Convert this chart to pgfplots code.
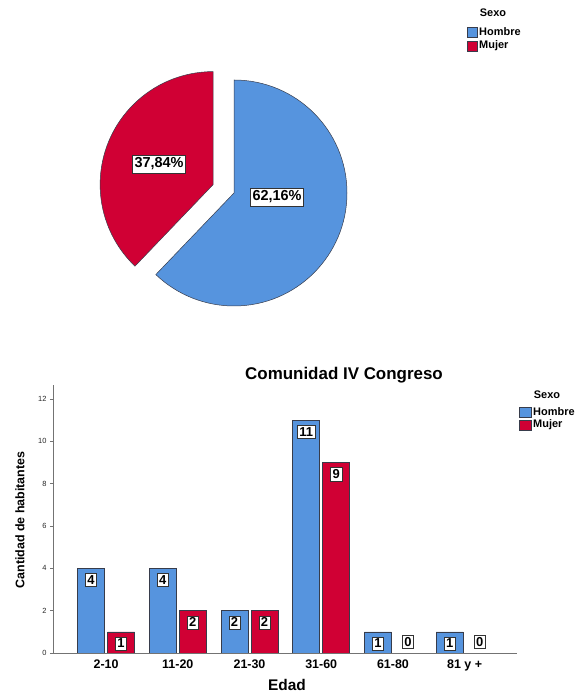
\documentclass[border=0pt]{standalone}
\usepackage{fontspec}
\setmainfont{Liberation Sans}
\usepackage{pgfplots}
\usepackage{pgfplotstable}
\pgfplotsset{compat=1.18}

\definecolor{hombre}{RGB}{86,148,222}
\definecolor{mujer}{RGB}{208,0,52}
\definecolor{edge}{RGB}{55,60,75}
\newcommand{\fsz}[1]{\fontsize{#1}{#1}\selectfont}

% share of Hombre in percent (Mujer = 100 - this)
\newcommand{\pctH}{62.16}

\pgfplotstableread{
cat hombre mujer
0   4      1
1   4      2
2   2      2
3   11     9
4   1      0
5   1      0
}\edad

\begin{document}
\begin{tikzpicture}
% ---- pie ----
\begin{axis}[hide axis, x=1bp, y=1bp,
    xmin=-130, xmax=130, ymin=-130, ymax=130,
    at={(234bp,500bp)}, anchor=center, clip=false]
  \pgfmathsetmacro{\aend}{90-3.6*\pctH}
  \pgfmathsetmacro{\bis}{(90+\aend+360)/2}
  \fill[hombre, draw=edge, line width=0.5bp]
    (axis cs:0,0) -- (axis cs:0,113) arc[start angle=90, end angle=\aend, radius=113bp] -- cycle;
  \fill[mujer, draw=edge, line width=0.5bp, shift={(\bis:22.5bp)}]
    (axis cs:0,0) -- (axis cs:0,113) arc[start angle=90, end angle=\aend+360, radius=113bp] -- cycle;
  \node[fill=white, draw=black!80, line width=0.5bp, inner xsep=2bp, inner ysep=3bp, font=\bfseries\fsz{14.5}]
    at (axis cs:43,-4) {62,16\%};
  \node[fill=white, draw=black!80, line width=0.5bp, inner xsep=2bp, inner ysep=3bp, font=\bfseries\fsz{14.5}]
    at (axis cs:-75,29) {37,84\%};
\end{axis}

% ---- bars ----
\begin{axis}[at={(53bp,40bp)}, anchor=south west,
    scale only axis, width=464bp, height=268bp,
    ybar=3bp, bar width=27bp,
    xmin=-0.74, xmax=5.73, ymin=0, ymax=12.66,
    axis lines*=left,
    axis line style={black!55, line width=0.6bp},
    xtick={0,...,5},
    xticklabels={2-10,11-20,21-30,31-60,61-80,81 y +},
    x tick style={draw=none},
    ytick={0,2,...,12},
    y tick style={black!55, line width=0.5bp},
    tick align=outside, major tick length=3bp,
    /pgf/number format/assume math mode=true,
    yticklabel style={font=\fsz{7.5}, text=black!85},
    xticklabel style={font=\bfseries\fsz{12.5}},
    nodes near coords,
    visualization depends on=rawy \as \rawy,
    nodes near coords style={font=\bfseries\fsz{13}, fill=white, draw=black!80,
      line width=0.5bp, inner xsep=2bp, inner ysep=2bp, anchor=north,
      yshift={ifthenelse(\rawy==0,18,-5)}},
  ]
  \addplot[fill=hombre, draw=edge, line width=0.5bp] table[x=cat, y=hombre] {\edad};
  \addplot[fill=mujer, draw=edge, line width=0.5bp] table[x=cat, y=mujer] {\edad};
\end{axis}

% ---- titles and labels ----
\node[font=\bfseries\fsz{17}] at (344bp,318bp) {Comunidad IV Congreso};
\node[font=\bfseries\fsz{12.5}, rotate=90] at (20bp,173bp) {Cantidad de habitantes};
\node[font=\bfseries\fsz{15.5}] at (287bp,8bp) {Edad};

% ---- legends ----
\node[font=\bfseries\fsz{11}] at (493bp,680bp) {Sexo};
\filldraw[fill=hombre, draw=edge, line width=0.4bp] (467bp,656bp) rectangle (477bp,666bp);
\filldraw[fill=mujer, draw=edge, line width=0.4bp] (467bp,642bp) rectangle (477bp,652bp);
\node[font=\bfseries\fsz{11}, anchor=west, inner sep=1bp] at (478bp,661bp) {Hombre};
\node[font=\bfseries\fsz{11}, anchor=west, inner sep=1bp] at (478bp,647bp) {Mujer};

\node[font=\bfseries\fsz{11}] at (547bp,298bp) {Sexo};
\filldraw[fill=hombre, draw=edge, line width=0.4bp] (519bp,276bp) rectangle (531bp,286bp);
\filldraw[fill=mujer, draw=edge, line width=0.4bp] (519bp,263bp) rectangle (531bp,273bp);
\node[font=\bfseries\fsz{11}, anchor=west, inner sep=1bp] at (532bp,281bp) {Hombre};
\node[font=\bfseries\fsz{11}, anchor=west, inner sep=1bp] at (532bp,268bp) {Mujer};

\pgfresetboundingbox
\path[use as bounding box] (0bp,0bp) rectangle (576bp,693bp);
\end{tikzpicture}
\end{document}
